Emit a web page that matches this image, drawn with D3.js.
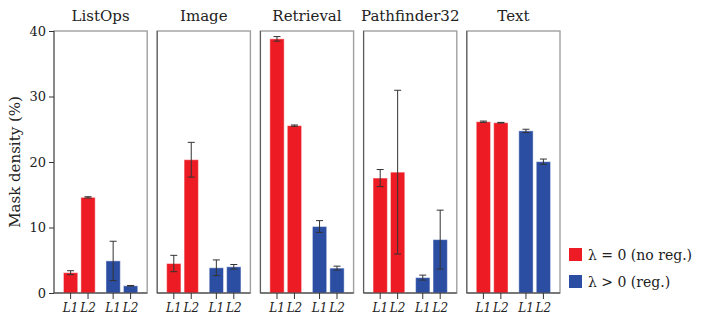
<!DOCTYPE html>
<html>
<head>
<meta charset="utf-8">
<script src="https://cdn.jsdelivr.net/npm/d3@7"></script>
<style>
	body { margin: 0; background: #fff; }
</style>
</head>
<body>
<div id="chart"></div>
<script>
// chart values
const tasks = ['ListOps', 'Image', 'Retrieval', 'Pathfinder32', 'Text'];
const norms = ['L1', 'L2'];
const settings = ['λ = 0 (no reg.)', 'λ > 0 (reg.)'];
const yTicks = [0, 10, 20, 30, 40];

const noRegMean = [[3.1, 14.6], [4.5, 20.35], [38.8, 25.55], [17.55, 18.45], [26.15, 26.0]];
const noRegErr = [[0.3, 0.1], [1.25, 2.65], [0.35, 0.1], [1.3, 12.5], [0.1, 0.05]];
const regMean = [[4.9, 1.1], [3.85, 4.0], [10.15, 3.8], [2.35, 8.15], [24.75, 20.05]];
const regErr = [[3.0, 0.05], [1.2, 0.35], [0.9, 0.3], [0.38, 4.5], [0.25, 0.4]];

const colors = ['#ED1C24', '#2B4EA2'];
const serif = "'DejaVu Serif', 'Liberation Serif', serif";

class DensityChart {
	constructor(elem) {
		this.container = d3.select(elem);
		this.width = 706;
		this.height = 320;
		this.margin = { top: 31, left: 54, right: 146, bottom: 27 };
		this.draw();
	}

	rows() {
		let out = [];
		tasks.forEach((t, ti) => {
			[noRegMean, regMean].forEach((means, si) => {
				let errs = si == 0 ? noRegErr : regErr;
				norms.forEach((n, ni) => {
					out.push({ task: t, setting: settings[si], norm: n, si: si,
						value: means[ti][ni], err: errs[ti][ni] });
				});
			});
		});
		return out;
	}

	draw() {
		let m = this.margin;
		let svg = this.container.append('svg')
			.attr('width', this.width)
			.attr('height', this.height)
			.attr('font-family', serif);

		let y = d3.scaleLinear()
			.domain([0, 40])
			.range([this.height - m.bottom, m.top]);

		let panel = d3.scaleBand()
			.domain(tasks)
			.range([m.left, this.width - m.right])
			.paddingInner(0.097);

		let group = d3.scaleBand()
			.domain(settings)
			.range([0, panel.bandwidth()])
			.paddingInner(0.18)
			.paddingOuter(0.185);

		let inner = d3.scaleBand()
			.domain(norms)
			.range([0, group.bandwidth()])
			.paddingInner(0.18)
			.paddingOuter(0.09);

		let data = this.rows();

		let panels = svg.selectAll('.panel')
			.data(tasks)
			.enter()
			.append('g')
			.attr('class', 'panel')
			.attr('transform', d => 'translate(' + panel(d) + ',0)');

		// frame: light top/right, darker left/bottom
		panels.append('rect')
			.attr('x', 0)
			.attr('y', y(40))
			.attr('width', panel.bandwidth())
			.attr('height', y(0) - y(40))
			.attr('fill', 'none')
			.attr('stroke', '#a0a0a0')
			.attr('stroke-width', 1.4);
		panels.append('line')
			.attr('x1', 0).attr('x2', 0)
			.attr('y1', y(40)).attr('y2', y(0))
			.attr('stroke', '#555')
			.attr('stroke-width', 1);

		panels.append('text')
			.attr('x', panel.bandwidth() / 2)
			.attr('y', 21)
			.attr('text-anchor', 'middle')
			.attr('font-family', serif)
			.attr('font-size', 15)
			.attr('fill', '#222')
			.text(d => d);

		let bars = panels.selectAll('.bar')
			.data(t => data.filter(r => r.task == t))
			.enter()
			.append('g')
			.attr('class', 'bar')
			.attr('transform', d => 'translate(' + (group(d.setting) + inner(d.norm)) + ',0)');

		let bw = inner.bandwidth();

		bars.append('rect')
			.attr('x', 0)
			.attr('y', d => y(d.value))
			.attr('width', bw)
			.attr('height', d => y(0) - y(d.value))
			.attr('fill', d => colors[d.si])
			.attr('stroke', 'rgba(255,255,255,0.45)')
			.attr('stroke-width', 1);

		// error bars
		bars.append('line')
			.attr('x1', bw / 2).attr('x2', bw / 2)
			.attr('y1', d => y(d.value + d.err))
			.attr('y2', d => y(d.value - d.err))
			.attr('stroke', '#333')
			.attr('stroke-width', 1);
		[1, -1].forEach(s => {
			bars.append('line')
				.attr('x1', bw / 2 - 3.5).attr('x2', bw / 2 + 3.5)
				.attr('y1', d => y(d.value + s * d.err))
				.attr('y2', d => y(d.value + s * d.err))
				.attr('stroke', '#333')
				.attr('stroke-width', 1);
		});

		// x ticks and italic labels
		bars.append('line')
			.attr('x1', bw / 2).attr('x2', bw / 2)
			.attr('y1', y(0)).attr('y2', y(0) + 6)
			.attr('stroke', '#333');
		bars.append('text')
			.attr('x', bw / 2)
			.attr('y', 312)
			.attr('text-anchor', 'middle')
			.attr('font-family', serif)
			.attr('font-size', 12)
			.attr('font-style', 'italic')
			.attr('fill', '#222')
			.text(d => d.norm);

		panels.append('line')
			.attr('x1', 0).attr('x2', panel.bandwidth())
			.attr('y1', y(0)).attr('y2', y(0))
			.attr('stroke', '#333')
			.attr('stroke-width', 1);

		// y axis on first panel
		let yAxis = svg.append('g')
			.attr('transform', 'translate(' + m.left + ',0)')
			.call(d3.axisLeft(y).tickValues(yTicks).tickSize(5).tickPadding(3));
		yAxis.select('.domain').remove();
		yAxis.attr('font-family', serif).attr('font-size', 13);
		yAxis.selectAll('line').attr('stroke', '#333');
		yAxis.selectAll('text').attr('fill', '#222');

		svg.append('text')
			.attr('transform', 'translate(20,' + ((y(0) + y(40)) / 2) + ') rotate(-90)')
			.attr('text-anchor', 'middle')
			.attr('font-family', serif)
			.attr('font-size', 15)
			.attr('fill', '#222')
			.text('Mask density (%)');

		// legend
		let legend = svg.selectAll('.legend')
			.data(settings)
			.enter()
			.append('g')
			.attr('class', 'legend')
			.attr('transform', (d, i) => 'translate(569,' + (248 + i * 27) + ')');
		legend.append('rect')
			.attr('width', 13)
			.attr('height', 13)
			.attr('fill', (d, i) => colors[i]);
		legend.append('text')
			.attr('x', 19)
			.attr('y', 12)
			.attr('font-family', serif)
			.attr('font-size', 14)
			.attr('fill', '#222')
			.text(d => d);
	}
}

new DensityChart('#chart');
</script>
</body>
</html>
